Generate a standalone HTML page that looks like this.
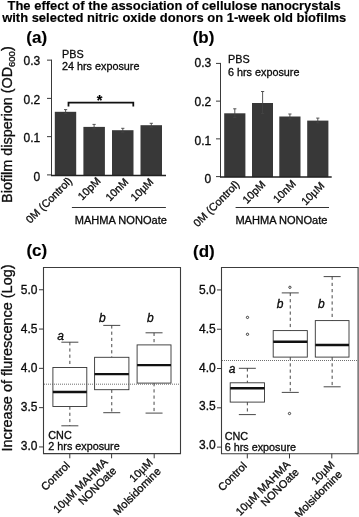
<!DOCTYPE html>
<html><head><meta charset="utf-8"><title>Figure</title>
<style>
html,body{margin:0;padding:0;background:#fff;}
body{width:359px;height:517px;overflow:hidden;font-family:'Liberation Sans', sans-serif;}
svg{display:block;will-change:transform;font-family:'Liberation Sans',sans-serif;}
</style></head><body>
<svg width="359" height="517" viewBox="0 0 359 517">
<rect x="0" y="0" width="359" height="517" fill="#fff"/>
<text x="174.2" y="9.6" font-size="12.96" text-anchor="middle" font-weight="bold" font-style="normal" fill="#000" stroke="#000" stroke-width="0.15">The effect of the association of cellulose nanocrystals</text>
<text x="174.2" y="22.1" font-size="12.96" text-anchor="middle" font-weight="bold" font-style="normal" fill="#000" stroke="#000" stroke-width="0.15">with selected nitric oxide donors on 1-week old biofilms</text>
<text x="26.3" y="42.8" font-size="17" text-anchor="start" font-weight="bold" font-style="normal" fill="#000" stroke="#000" stroke-width="0.15">(a)</text>
<line x1="51.5" y1="59.650000000000006" x2="51.5" y2="175.4" stroke="#3a3a3a" stroke-width="1"/>
<line x1="47.0" y1="60.150000000000006" x2="51.5" y2="60.150000000000006" stroke="#3a3a3a" stroke-width="1"/>
<text x="40.2" y="65.1" font-size="12" text-anchor="end" font-weight="normal" font-style="normal" fill="#111" stroke="#000" stroke-width="0.3">0.3</text>
<line x1="47.0" y1="98.4" x2="51.5" y2="98.4" stroke="#3a3a3a" stroke-width="1"/>
<text x="40.2" y="103.6" font-size="12" text-anchor="end" font-weight="normal" font-style="normal" fill="#111" stroke="#000" stroke-width="0.3">0.2</text>
<line x1="47.0" y1="136.65" x2="51.5" y2="136.65" stroke="#3a3a3a" stroke-width="1"/>
<text x="40.2" y="142.2" font-size="12" text-anchor="end" font-weight="normal" font-style="normal" fill="#111" stroke="#000" stroke-width="0.3">0.1</text>
<line x1="47.0" y1="174.9" x2="51.5" y2="174.9" stroke="#3a3a3a" stroke-width="1"/>
<text x="40.2" y="180.7" font-size="12" text-anchor="end" font-weight="normal" font-style="normal" fill="#111" stroke="#000" stroke-width="0.3">0</text>
<rect x="54.8" y="111.8" width="21.400000000000006" height="63.60000000000001" fill="#383838"/>
<rect x="83.4" y="126.9" width="21.5" height="48.5" fill="#383838"/>
<rect x="112.0" y="130.2" width="21.5" height="45.20000000000002" fill="#383838"/>
<rect x="140.5" y="125.2" width="21.5" height="50.2" fill="#383838"/>
<line x1="51.0" y1="175.4" x2="166" y2="175.4" stroke="#222" stroke-width="1.5"/>
<line x1="65.6" y1="109.6" x2="65.6" y2="113.4" stroke="#444" stroke-width="0.9"/>
<line x1="63.99999999999999" y1="109.6" x2="67.19999999999999" y2="109.6" stroke="#444" stroke-width="0.9"/>
<line x1="63.99999999999999" y1="113.4" x2="67.19999999999999" y2="113.4" stroke="#444" stroke-width="0.9"/>
<line x1="94.1" y1="124.4" x2="94.1" y2="128.8" stroke="#444" stroke-width="0.9"/>
<line x1="92.5" y1="124.4" x2="95.69999999999999" y2="124.4" stroke="#444" stroke-width="0.9"/>
<line x1="92.5" y1="128.8" x2="95.69999999999999" y2="128.8" stroke="#444" stroke-width="0.9"/>
<line x1="122.8" y1="128.3" x2="122.8" y2="132.2" stroke="#444" stroke-width="0.9"/>
<line x1="121.2" y1="128.3" x2="124.39999999999999" y2="128.3" stroke="#444" stroke-width="0.9"/>
<line x1="121.2" y1="132.2" x2="124.39999999999999" y2="132.2" stroke="#444" stroke-width="0.9"/>
<line x1="151.3" y1="123.3" x2="151.3" y2="127.2" stroke="#444" stroke-width="0.9"/>
<line x1="149.70000000000002" y1="123.3" x2="152.9" y2="123.3" stroke="#444" stroke-width="0.9"/>
<line x1="149.70000000000002" y1="127.2" x2="152.9" y2="127.2" stroke="#444" stroke-width="0.9"/>
<text x="62.0" y="58.1" font-size="10.8" text-anchor="start" font-weight="normal" font-style="normal" fill="#111" stroke="#000" stroke-width="0.3">PBS</text>
<text x="62.0" y="69.7" font-size="10.8" text-anchor="start" font-weight="normal" font-style="normal" fill="#111" stroke="#000" stroke-width="0.3">24 hrs exposure</text>
<text x="72.8" y="181.6" font-size="10.8" text-anchor="end" font-weight="normal" font-style="normal" fill="#111" stroke="#000" stroke-width="0.3" transform="rotate(-45 72.8 181.6)">0M (Control)</text>
<text x="101.3" y="181.6" font-size="10.8" text-anchor="end" font-weight="normal" font-style="normal" fill="#111" stroke="#000" stroke-width="0.3" transform="rotate(-45 101.3 181.6)">10pM</text>
<text x="129.0" y="182.6" font-size="10.8" text-anchor="end" font-weight="normal" font-style="normal" fill="#111" stroke="#000" stroke-width="0.3" transform="rotate(-45 129.0 182.6)">10nM</text>
<text x="154.2" y="182.6" font-size="10.8" text-anchor="end" font-weight="normal" font-style="normal" fill="#111" stroke="#000" stroke-width="0.3" transform="rotate(-45 154.2 182.6)">10µM</text>
<line x1="71.9" y1="207.5" x2="165.9" y2="207.5" stroke="#333" stroke-width="1"/>
<text x="74.8" y="224.1" font-size="11.05" text-anchor="start" font-weight="normal" font-style="normal" fill="#111" stroke="#000" stroke-width="0.3">MAHMA NONOate</text>
<path d="M68.5 106.5 V102.7 H133.3 V106.5" fill="none" stroke="#111" stroke-width="1.75"/>
<text x="99.6" y="104.9" font-size="14.5" text-anchor="middle" font-weight="bold" font-style="normal" fill="#000" stroke="#000" stroke-width="0.15">*</text>
<text x="192.7" y="42.5" font-size="17" text-anchor="start" font-weight="bold" font-style="normal" fill="#000" stroke="#000" stroke-width="0.15">(b)</text>
<line x1="220.5" y1="62.91" x2="220.5" y2="177.1" stroke="#3a3a3a" stroke-width="1"/>
<line x1="216.0" y1="63.41" x2="220.5" y2="63.41" stroke="#3a3a3a" stroke-width="1"/>
<text x="211.3" y="66.7" font-size="12" text-anchor="end" font-weight="normal" font-style="normal" fill="#111" stroke="#000" stroke-width="0.3">0.3</text>
<line x1="216.0" y1="101.13999999999999" x2="220.5" y2="101.13999999999999" stroke="#3a3a3a" stroke-width="1"/>
<text x="211.3" y="105.6" font-size="12" text-anchor="end" font-weight="normal" font-style="normal" fill="#111" stroke="#000" stroke-width="0.3">0.2</text>
<line x1="216.0" y1="138.87" x2="220.5" y2="138.87" stroke="#3a3a3a" stroke-width="1"/>
<text x="211.3" y="144.5" font-size="12" text-anchor="end" font-weight="normal" font-style="normal" fill="#111" stroke="#000" stroke-width="0.3">0.1</text>
<line x1="216.0" y1="176.6" x2="220.5" y2="176.6" stroke="#3a3a3a" stroke-width="1"/>
<text x="211.3" y="183.4" font-size="12" text-anchor="end" font-weight="normal" font-style="normal" fill="#111" stroke="#000" stroke-width="0.3">0</text>
<rect x="224.2" y="113.3" width="21.200000000000017" height="63.8" fill="#383838"/>
<rect x="252.0" y="103.0" width="21.0" height="74.1" fill="#383838"/>
<rect x="279.3" y="116.5" width="21.19999999999999" height="60.599999999999994" fill="#383838"/>
<rect x="307.2" y="120.6" width="21.19999999999999" height="56.5" fill="#383838"/>
<line x1="220.0" y1="177.1" x2="331.7" y2="177.1" stroke="#222" stroke-width="1.5"/>
<line x1="234.8" y1="108.8" x2="234.8" y2="117.4" stroke="#444" stroke-width="0.9"/>
<line x1="233.20000000000002" y1="108.8" x2="236.4" y2="108.8" stroke="#444" stroke-width="0.9"/>
<line x1="233.20000000000002" y1="117.4" x2="236.4" y2="117.4" stroke="#444" stroke-width="0.9"/>
<line x1="262.6" y1="91.5" x2="262.6" y2="113.6" stroke="#444" stroke-width="0.9"/>
<line x1="261.0" y1="91.5" x2="264.20000000000005" y2="91.5" stroke="#444" stroke-width="0.9"/>
<line x1="261.0" y1="113.6" x2="264.20000000000005" y2="113.6" stroke="#444" stroke-width="0.9"/>
<line x1="289.9" y1="114.0" x2="289.9" y2="119.0" stroke="#444" stroke-width="0.9"/>
<line x1="288.29999999999995" y1="114.0" x2="291.5" y2="114.0" stroke="#444" stroke-width="0.9"/>
<line x1="288.29999999999995" y1="119.0" x2="291.5" y2="119.0" stroke="#444" stroke-width="0.9"/>
<line x1="317.8" y1="118.1" x2="317.8" y2="122.8" stroke="#444" stroke-width="0.9"/>
<line x1="316.2" y1="118.1" x2="319.40000000000003" y2="118.1" stroke="#444" stroke-width="0.9"/>
<line x1="316.2" y1="122.8" x2="319.40000000000003" y2="122.8" stroke="#444" stroke-width="0.9"/>
<text x="228.0" y="63.2" font-size="10.8" text-anchor="start" font-weight="normal" font-style="normal" fill="#111" stroke="#000" stroke-width="0.3">PBS</text>
<text x="228.0" y="75.5" font-size="10.8" text-anchor="start" font-weight="normal" font-style="normal" fill="#111" stroke="#000" stroke-width="0.3">6 hrs exposure</text>
<text x="240.1" y="185.0" font-size="10.8" text-anchor="end" font-weight="normal" font-style="normal" fill="#111" stroke="#000" stroke-width="0.3" transform="rotate(-45 240.1 185.0)">0M (Control)</text>
<text x="266.2" y="185.2" font-size="10.8" text-anchor="end" font-weight="normal" font-style="normal" fill="#111" stroke="#000" stroke-width="0.3" transform="rotate(-45 266.2 185.2)">10pM</text>
<text x="296.5" y="184.4" font-size="10.8" text-anchor="end" font-weight="normal" font-style="normal" fill="#111" stroke="#000" stroke-width="0.3" transform="rotate(-45 296.5 184.4)">10nM</text>
<text x="325" y="186.4" font-size="10.8" text-anchor="end" font-weight="normal" font-style="normal" fill="#111" stroke="#000" stroke-width="0.3" transform="rotate(-45 325 186.4)">10µM</text>
<line x1="235.6" y1="207.5" x2="329" y2="207.5" stroke="#333" stroke-width="1"/>
<text x="235.4" y="223.8" font-size="11.05" text-anchor="start" font-weight="normal" font-style="normal" fill="#111" stroke="#000" stroke-width="0.3">MAHMA NONOate</text>
<text transform="translate(11.6 124.6) rotate(-90)" font-size="14.4" text-anchor="middle" fill="#111" stroke="#000" stroke-width="0.3">Biofilm disperion (OD<tspan font-size="9.5" dy="3">600</tspan><tspan dy="-3">)</tspan></text>
<text transform="translate(11.6 358) rotate(-90)" font-size="14.45" text-anchor="middle" fill="#111" stroke="#000" stroke-width="0.3">Increase of flurescence (Log)</text>
<text x="26.4" y="256.4" font-size="17" text-anchor="start" font-weight="bold" font-style="normal" fill="#000" stroke="#000" stroke-width="0.15">(c)</text>
<path d="M43.5 453.6 V267.5 H180.5 V453.6 Z" fill="none" stroke="#3c3c3c" stroke-width="1.1" stroke-linejoin="miter"/>
<line x1="39.0" y1="289.75" x2="43.5" y2="289.75" stroke="#3a3a3a" stroke-width="1"/>
<text x="37.4" y="294.0" font-size="12" text-anchor="end" font-weight="normal" font-style="normal" fill="#111" stroke="#000" stroke-width="0.3">5.0</text>
<line x1="39.0" y1="329.05" x2="43.5" y2="329.05" stroke="#3a3a3a" stroke-width="1"/>
<text x="37.4" y="333.1" font-size="12" text-anchor="end" font-weight="normal" font-style="normal" fill="#111" stroke="#000" stroke-width="0.3">4.5</text>
<line x1="39.0" y1="368.35" x2="43.5" y2="368.35" stroke="#3a3a3a" stroke-width="1"/>
<text x="37.4" y="372.2" font-size="12" text-anchor="end" font-weight="normal" font-style="normal" fill="#111" stroke="#000" stroke-width="0.3">4.0</text>
<line x1="39.0" y1="407.65" x2="43.5" y2="407.65" stroke="#3a3a3a" stroke-width="1"/>
<text x="37.4" y="411.3" font-size="12" text-anchor="end" font-weight="normal" font-style="normal" fill="#111" stroke="#000" stroke-width="0.3">3.5</text>
<line x1="39.0" y1="446.95" x2="43.5" y2="446.95" stroke="#3a3a3a" stroke-width="1"/>
<text x="37.4" y="450.4" font-size="12" text-anchor="end" font-weight="normal" font-style="normal" fill="#111" stroke="#000" stroke-width="0.3">3.0</text>
<line x1="69.85" y1="342.2" x2="69.85" y2="367.5" stroke="#333" stroke-width="0.9" stroke-dasharray="3.2 3.0"/>
<line x1="69.85" y1="406.5" x2="69.85" y2="425.8" stroke="#333" stroke-width="0.9" stroke-dasharray="3.2 3.0"/>
<line x1="61.349999999999994" y1="342.2" x2="78.35" y2="342.2" stroke="#333" stroke-width="0.9"/>
<line x1="61.349999999999994" y1="425.8" x2="78.35" y2="425.8" stroke="#333" stroke-width="0.9"/>
<rect x="52.9" y="367.5" width="33.9" height="39.0" fill="#fff" stroke="#333" stroke-width="0.9"/>
<line x1="52.9" y1="392.0" x2="86.8" y2="392.0" stroke="#111" stroke-width="2.4"/>
<line x1="111.75" y1="325.4" x2="111.75" y2="357.3" stroke="#333" stroke-width="0.9" stroke-dasharray="3.2 3.0"/>
<line x1="111.75" y1="389.7" x2="111.75" y2="412.7" stroke="#333" stroke-width="0.9" stroke-dasharray="3.2 3.0"/>
<line x1="103.25" y1="325.4" x2="120.25" y2="325.4" stroke="#333" stroke-width="0.9"/>
<line x1="103.25" y1="412.7" x2="120.25" y2="412.7" stroke="#333" stroke-width="0.9"/>
<rect x="94.6" y="357.3" width="34.30000000000001" height="32.39999999999998" fill="#fff" stroke="#333" stroke-width="0.9"/>
<line x1="94.6" y1="374.1" x2="128.9" y2="374.1" stroke="#111" stroke-width="2.4"/>
<line x1="154.05" y1="332.8" x2="154.05" y2="344.9" stroke="#333" stroke-width="0.9" stroke-dasharray="3.2 3.0"/>
<line x1="154.05" y1="383.1" x2="154.05" y2="413.1" stroke="#333" stroke-width="0.9" stroke-dasharray="3.2 3.0"/>
<line x1="145.55" y1="332.8" x2="162.55" y2="332.8" stroke="#333" stroke-width="0.9"/>
<line x1="145.55" y1="413.1" x2="162.55" y2="413.1" stroke="#333" stroke-width="0.9"/>
<rect x="137.1" y="344.9" width="33.900000000000006" height="38.200000000000045" fill="#fff" stroke="#333" stroke-width="0.9"/>
<line x1="137.1" y1="365.1" x2="171.0" y2="365.1" stroke="#111" stroke-width="2.4"/>
<line x1="44" y1="384.2" x2="180.5" y2="384.2" stroke="#555" stroke-width="0.85" stroke-dasharray="1 1"/>
<text x="60.5" y="340.0" font-size="12" text-anchor="middle" font-weight="normal" font-style="italic" fill="#111" stroke="#000" stroke-width="0.3">a</text>
<text x="102.3" y="321.5" font-size="12" text-anchor="middle" font-weight="normal" font-style="italic" fill="#111" stroke="#000" stroke-width="0.3">b</text>
<text x="150.3" y="321.5" font-size="12" text-anchor="middle" font-weight="normal" font-style="italic" fill="#111" stroke="#000" stroke-width="0.3">b</text>
<text x="48.3" y="439.3" font-size="10.8" text-anchor="start" font-weight="normal" font-style="normal" fill="#111" stroke="#000" stroke-width="0.3">CNC</text>
<text x="48.3" y="450.4" font-size="10.8" text-anchor="start" font-weight="normal" font-style="normal" fill="#111" stroke="#000" stroke-width="0.3">2 hrs exposure</text>
<line x1="69.8" y1="453.6" x2="69.8" y2="458.3" stroke="#3a3a3a" stroke-width="1"/>
<line x1="111.6" y1="453.6" x2="111.6" y2="458.3" stroke="#3a3a3a" stroke-width="1"/>
<line x1="154.2" y1="453.6" x2="154.2" y2="458.3" stroke="#3a3a3a" stroke-width="1"/>
<text x="70.6" y="466.2" font-size="11.0" text-anchor="end" font-weight="normal" font-style="normal" fill="#111" stroke="#000" stroke-width="0.3" transform="rotate(-45 70.6 466.2)">Control</text>
<text x="108.5" y="462.9" font-size="11.0" text-anchor="end" font-weight="normal" font-style="normal" fill="#111" stroke="#000" stroke-width="0.3" transform="rotate(-45 108.5 462.9)">10µM MAHMA</text>
<text x="117.0" y="471.4" font-size="11.0" text-anchor="end" font-weight="normal" font-style="normal" fill="#111" stroke="#000" stroke-width="0.3" transform="rotate(-45 117.0 471.4)">NONOate</text>
<text x="153.5" y="463.2" font-size="11.0" text-anchor="end" font-weight="normal" font-style="normal" fill="#111" stroke="#000" stroke-width="0.3" transform="rotate(-45 153.5 463.2)">10µM</text>
<text x="161.5" y="472.0" font-size="11.0" text-anchor="end" font-weight="normal" font-style="normal" fill="#111" stroke="#000" stroke-width="0.3" transform="rotate(-45 161.5 472.0)">Molsidomine</text>
<text x="193.0" y="256.5" font-size="17" text-anchor="start" font-weight="bold" font-style="normal" fill="#000" stroke="#000" stroke-width="0.15">(d)</text>
<path d="M221.5 453.7 V267.5 H358.1 V453.7 Z" fill="none" stroke="#3c3c3c" stroke-width="1.1" stroke-linejoin="miter"/>
<line x1="217.0" y1="289.95" x2="221.5" y2="289.95" stroke="#3a3a3a" stroke-width="1"/>
<text x="215.7" y="294.2" font-size="12" text-anchor="end" font-weight="normal" font-style="normal" fill="#111" stroke="#000" stroke-width="0.3">5.0</text>
<line x1="217.0" y1="329.24" x2="221.5" y2="329.24" stroke="#3a3a3a" stroke-width="1"/>
<text x="215.7" y="332.94" font-size="12" text-anchor="end" font-weight="normal" font-style="normal" fill="#111" stroke="#000" stroke-width="0.3">4.5</text>
<line x1="217.0" y1="368.53" x2="221.5" y2="368.53" stroke="#3a3a3a" stroke-width="1"/>
<text x="215.7" y="371.68" font-size="12" text-anchor="end" font-weight="normal" font-style="normal" fill="#111" stroke="#000" stroke-width="0.3">4.0</text>
<line x1="217.0" y1="407.82" x2="221.5" y2="407.82" stroke="#3a3a3a" stroke-width="1"/>
<text x="215.7" y="410.41999999999996" font-size="12" text-anchor="end" font-weight="normal" font-style="normal" fill="#111" stroke="#000" stroke-width="0.3">3.5</text>
<line x1="217.0" y1="447.11" x2="221.5" y2="447.11" stroke="#3a3a3a" stroke-width="1"/>
<text x="215.7" y="449.15999999999997" font-size="12" text-anchor="end" font-weight="normal" font-style="normal" fill="#111" stroke="#000" stroke-width="0.3">3.0</text>
<line x1="247.35" y1="368.3" x2="247.35" y2="382.8" stroke="#333" stroke-width="0.9" stroke-dasharray="3.2 3.0"/>
<line x1="247.35" y1="402.1" x2="247.35" y2="414.6" stroke="#333" stroke-width="0.9" stroke-dasharray="3.2 3.0"/>
<line x1="238.85" y1="368.3" x2="255.85" y2="368.3" stroke="#333" stroke-width="0.9"/>
<line x1="238.85" y1="414.6" x2="255.85" y2="414.6" stroke="#333" stroke-width="0.9"/>
<rect x="230.2" y="382.8" width="34.30000000000001" height="19.30000000000001" fill="#fff" stroke="#333" stroke-width="0.9"/>
<line x1="230.2" y1="388.2" x2="264.5" y2="388.2" stroke="#111" stroke-width="2.4"/>
<line x1="290.25" y1="292.9" x2="290.25" y2="330.6" stroke="#333" stroke-width="0.9" stroke-dasharray="3.2 3.0"/>
<line x1="290.25" y1="357.1" x2="290.25" y2="392.4" stroke="#333" stroke-width="0.9" stroke-dasharray="3.2 3.0"/>
<line x1="281.75" y1="292.9" x2="298.75" y2="292.9" stroke="#333" stroke-width="0.9"/>
<line x1="281.75" y1="392.4" x2="298.75" y2="392.4" stroke="#333" stroke-width="0.9"/>
<rect x="273.2" y="330.6" width="34.10000000000002" height="26.5" fill="#fff" stroke="#333" stroke-width="0.9"/>
<line x1="273.2" y1="341.8" x2="307.3" y2="341.8" stroke="#111" stroke-width="2.4"/>
<line x1="332.15" y1="276.6" x2="332.15" y2="320.6" stroke="#333" stroke-width="0.9" stroke-dasharray="3.2 3.0"/>
<line x1="332.15" y1="357.1" x2="332.15" y2="386.8" stroke="#333" stroke-width="0.9" stroke-dasharray="3.2 3.0"/>
<line x1="323.65" y1="276.6" x2="340.65" y2="276.6" stroke="#333" stroke-width="0.9"/>
<line x1="323.65" y1="386.8" x2="340.65" y2="386.8" stroke="#333" stroke-width="0.9"/>
<rect x="315.3" y="320.6" width="33.69999999999999" height="36.5" fill="#fff" stroke="#333" stroke-width="0.9"/>
<line x1="315.3" y1="345.0" x2="349.0" y2="345.0" stroke="#111" stroke-width="2.4"/>
<line x1="222" y1="360.5" x2="358.1" y2="360.5" stroke="#555" stroke-width="0.85" stroke-dasharray="1 1"/>
<circle cx="247.5" cy="317.4" r="1.15" fill="#fff" stroke="#2a2a2a" stroke-width="0.9"/>
<circle cx="247.5" cy="334.3" r="1.15" fill="#fff" stroke="#2a2a2a" stroke-width="0.9"/>
<circle cx="289.9" cy="287.3" r="1.15" fill="#fff" stroke="#2a2a2a" stroke-width="0.9"/>
<circle cx="289.5" cy="413.5" r="1.15" fill="#fff" stroke="#2a2a2a" stroke-width="0.9"/>
<text x="232.0" y="373.3" font-size="12" text-anchor="middle" font-weight="normal" font-style="italic" fill="#111" stroke="#000" stroke-width="0.3">a</text>
<text x="280.0" y="308.0" font-size="12" text-anchor="middle" font-weight="normal" font-style="italic" fill="#111" stroke="#000" stroke-width="0.3">b</text>
<text x="321.4" y="308.0" font-size="12" text-anchor="middle" font-weight="normal" font-style="italic" fill="#111" stroke="#000" stroke-width="0.3">b</text>
<text x="224.7" y="439.6" font-size="10.8" text-anchor="start" font-weight="normal" font-style="normal" fill="#111" stroke="#000" stroke-width="0.3">CNC</text>
<text x="224.7" y="450.9" font-size="10.8" text-anchor="start" font-weight="normal" font-style="normal" fill="#111" stroke="#000" stroke-width="0.3">6 hrs exposure</text>
<line x1="247.3" y1="453.7" x2="247.3" y2="458.4" stroke="#3a3a3a" stroke-width="1"/>
<line x1="289.5" y1="453.7" x2="289.5" y2="458.4" stroke="#3a3a3a" stroke-width="1"/>
<line x1="331.8" y1="453.7" x2="331.8" y2="458.4" stroke="#3a3a3a" stroke-width="1"/>
<text x="247.5" y="466.6" font-size="11.0" text-anchor="end" font-weight="normal" font-style="normal" fill="#111" stroke="#000" stroke-width="0.3" transform="rotate(-45 247.5 466.6)">Control</text>
<text x="291.0" y="465.4" font-size="11.0" text-anchor="end" font-weight="normal" font-style="normal" fill="#111" stroke="#000" stroke-width="0.3" transform="rotate(-45 291.0 465.4)">10µM MAHMA</text>
<text x="299.5" y="472.8" font-size="11.0" text-anchor="end" font-weight="normal" font-style="normal" fill="#111" stroke="#000" stroke-width="0.3" transform="rotate(-45 299.5 472.8)">NONOate</text>
<text x="335.3" y="465.4" font-size="11.0" text-anchor="end" font-weight="normal" font-style="normal" fill="#111" stroke="#000" stroke-width="0.3" transform="rotate(-45 335.3 465.4)">10µM</text>
<text x="342.8" y="474.8" font-size="11.0" text-anchor="end" font-weight="normal" font-style="normal" fill="#111" stroke="#000" stroke-width="0.3" transform="rotate(-45 342.8 474.8)">Molsidomine</text>
</svg>
</body></html>
